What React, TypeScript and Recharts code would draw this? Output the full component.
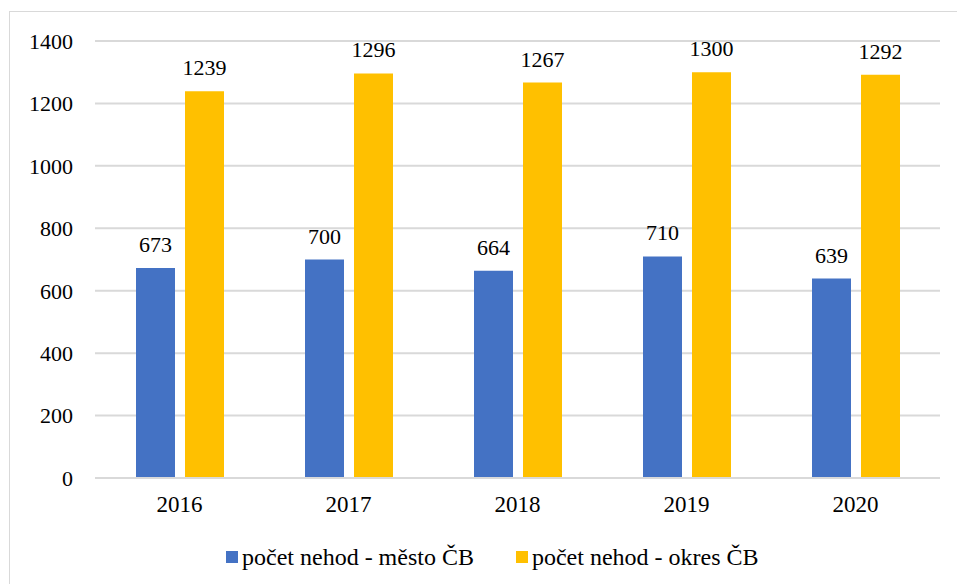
import { BarChart, Bar, XAxis, YAxis, CartesianGrid, LabelList } from 'recharts';

const years = ['2016', '2017', '2018', '2019', '2020'];
const mesto = [673, 700, 664, 710, 639];
const okres = [1239, 1296, 1267, 1300, 1292];
const yTicks = [0, 200, 400, 600, 800, 1000, 1200, 1400];

const data = years.map((year, i) => ({ year, mesto: mesto[i], okres: okres[i] }));

const FONT = 'Liberation Serif, Times New Roman, serif';

const legendItems = [
  { label: 'počet nehod - město ČB', color: '#4472C4' },
  { label: 'počet nehod - okres ČB', color: '#FFC000' },
];

export default function App() {
  return (
    <div style={{ position: 'absolute', left: 0, top: 0, width: 957, height: 584, overflow: 'hidden', background: '#fff' }}>
      {/* frame, right and bottom edges fall outside the picture */}
      <div
        style={{
          position: 'absolute',
          left: 9,
          top: 11,
          width: 980,
          height: 600,
          border: '1.5px solid #D9D9D9',
        }}
      />
      <BarChart
        width={957}
        height={584}
        data={data}
        margin={{ top: 41, right: 17, bottom: 0, left: 0 }}
        barCategoryGap={40}
        barGap={10}
        style={{ fontFamily: FONT }}
      >
        <CartesianGrid vertical={false} stroke="#D9D9D9" strokeWidth={2} />
        <XAxis
          dataKey="year"
          axisLine={{ stroke: '#D9D9D9', strokeWidth: 2 }}
          tickLine={false}
          tickSize={0}
          tickMargin={18}
          tick={{ fill: '#000', fontSize: 23, fontFamily: FONT }}
          height={106}
        />
        <YAxis
          width={95}
          domain={[0, 1400]}
          ticks={yTicks}
          axisLine={false}
          tickLine={false}
          tickSize={0}
          tickMargin={22}
          tick={{ fill: '#000', fontSize: 22, fontFamily: FONT }}
        />
        <Bar dataKey="mesto" fill="#4472C4" barSize={39} isAnimationActive={false}>
          <LabelList dataKey="mesto" position="top" offset={16} fill="#000" fontSize={22} fontFamily={FONT} />
        </Bar>
        <Bar dataKey="okres" fill="#FFC000" barSize={39} isAnimationActive={false}>
          <LabelList dataKey="okres" position="top" offset={16} fill="#000" fontSize={22} fontFamily={FONT} />
        </Bar>
      </BarChart>
      <div
        style={{
          position: 'absolute',
          left: 226,
          top: 543,
          display: 'flex',
          alignItems: 'center',
          fontFamily: FONT,
          fontSize: 24,
          lineHeight: '28px',
          color: '#000',
          whiteSpace: 'nowrap',
        }}
      >
        {legendItems.map((item, i) => (
          <div key={item.label} style={{ display: 'flex', alignItems: 'center', marginRight: i === 0 ? 42 : 0 }}>
            <span style={{ width: 12, height: 12, background: item.color, display: 'inline-block', marginRight: 4 }} />
            <span>{item.label}</span>
          </div>
        ))}
      </div>
    </div>
  );
}
